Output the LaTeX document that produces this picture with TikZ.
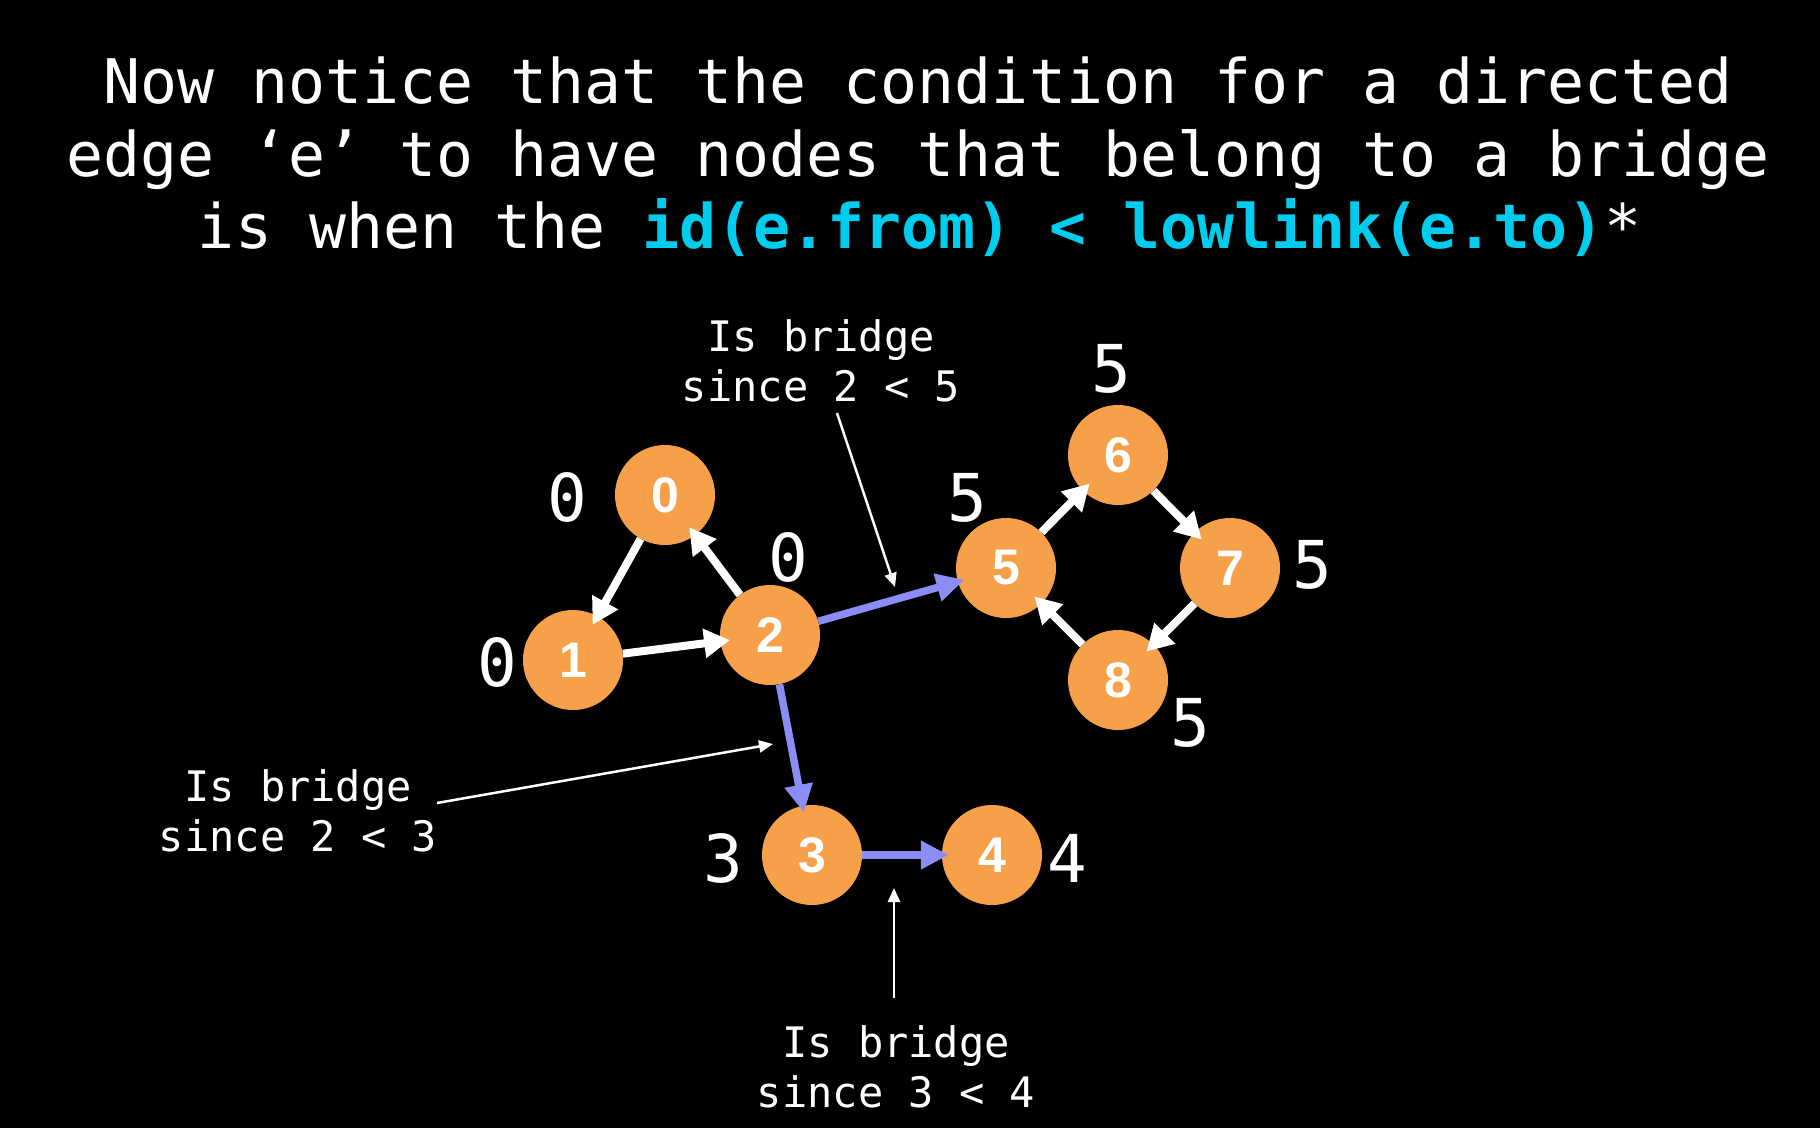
\documentclass[tikz,border=0pt]{standalone}
\usepackage{fontspec}
\usetikzlibrary{arrows.meta}
\newfontfamily\monofont{DejaVu Sans Mono}
\newfontfamily\labfont{Liberation Sans}
\definecolor{nodeorange}{HTML}{F7A04A}
\definecolor{bridgeblue}{HTML}{8C8CF5}
\definecolor{codecyan}{HTML}{00CCEE}
\begin{document}
\begin{tikzpicture}[x=1pt,y=-1pt,
  vert/.style={circle, fill=nodeorange, minimum size=100pt, inner sep=0pt, text=white,
    font=\labfont\bfseries\fontsize{50}{50}\selectfont},
  low/.style={inner sep=0pt, text=white, font=\monofont\fontsize{66}{66}\selectfont},
  titleline/.style={inner sep=0pt, anchor=base, text=white, font=\monofont\fontsize{61.5}{72}\selectfont},
  note/.style={inner sep=0pt, text=white, align=center, font=\monofont\fontsize{42}{50}\selectfont},
  plainarc/.style={draw=white, line width=8pt, -{Triangle[length=26pt,width=28pt]}, shorten >=-10pt},
  bridgearc/.style={draw=bridgeblue, line width=7.5pt, -{Triangle[length=28pt,width=27pt]}, shorten >=-7pt},
  pointer/.style={draw=white, line width=2.5pt, -{Triangle[length=14pt,width=12pt]}}]

\fill[black] (0,0) rectangle (1820,1128);

% title
\node[titleline] (t1) at (918,103) {Now notice that the condition for a directed};
\node[titleline] (t2) at (918,176) {edge ‘e’ to have nodes that belong to a bridge};
\node[titleline] (t3) at (920,248) {is when the \textcolor{codecyan}{\bfseries id(e.from) < lowlink(e.to)}*};

% vertices
\node[vert] (n0) at (665,495) {0};
\node[vert] (n1) at (573,660) {1};
\node[vert] (n2) at (770,635) {2};
\node[vert] (n3) at (812,855) {3};
\node[vert] (n4) at (992,855) {4};
\node[vert] (n5) at (1006,568) {5};
\node[vert] (n6) at (1118,455) {6};
\node[vert] (n7) at (1230,568) {7};
\node[vert] (n8) at (1118,680) {8};

% low-link values
\node[low] (l0) at (567,497) {0};
\node[low] (l1) at (497,662) {0};
\node[low] (l2) at (788,557) {0};
\node[low] (l3) at (723,858) {3};
\node[low] (l4) at (1067,858) {4};
\node[low] (l5) at (967,498) {5};
\node[low] (l6) at (1111,369) {5};
\node[low] (l7) at (1312,565) {5};
\node[low] (l8) at (1190,723) {5};

% edges
\draw[plainarc] (n0) -- (n1);
\draw[plainarc] (n1) -- (n2);
\draw[plainarc] (n2) -- (n0);
\draw[plainarc] (n5) -- (n6);
\draw[plainarc] (n6) -- (n7);
\draw[plainarc] (n7) -- (n8);
\draw[plainarc] (n8) -- (n5);
\draw[bridgearc] (n2) -- (n5);
\draw[bridgearc] (n2) -- (n3);
\draw[bridgearc] (n3) -- (n4);

% annotations
\node[note] (a1) at (821,361) {Is bridge\\since 2 < 5};
\node[note] (a2) at (298,811) {Is bridge\\since 2 < 3};
\node[note] (a3) at (896,1067) {Is bridge\\since 3 < 4};

\coordinate (p1s) at (837,413);
\coordinate (p1e) at (895,587);
\coordinate (p2s) at (437,803);
\coordinate (p2e) at (773,744);
\coordinate (p3s) at (894,998);
\coordinate (p3e) at (894,888);
\draw[pointer] (p1s) -- (p1e);
\draw[pointer] (p2s) -- (p2e);
\draw[pointer] (p3s) -- (p3e);
\end{tikzpicture}
\end{document}
